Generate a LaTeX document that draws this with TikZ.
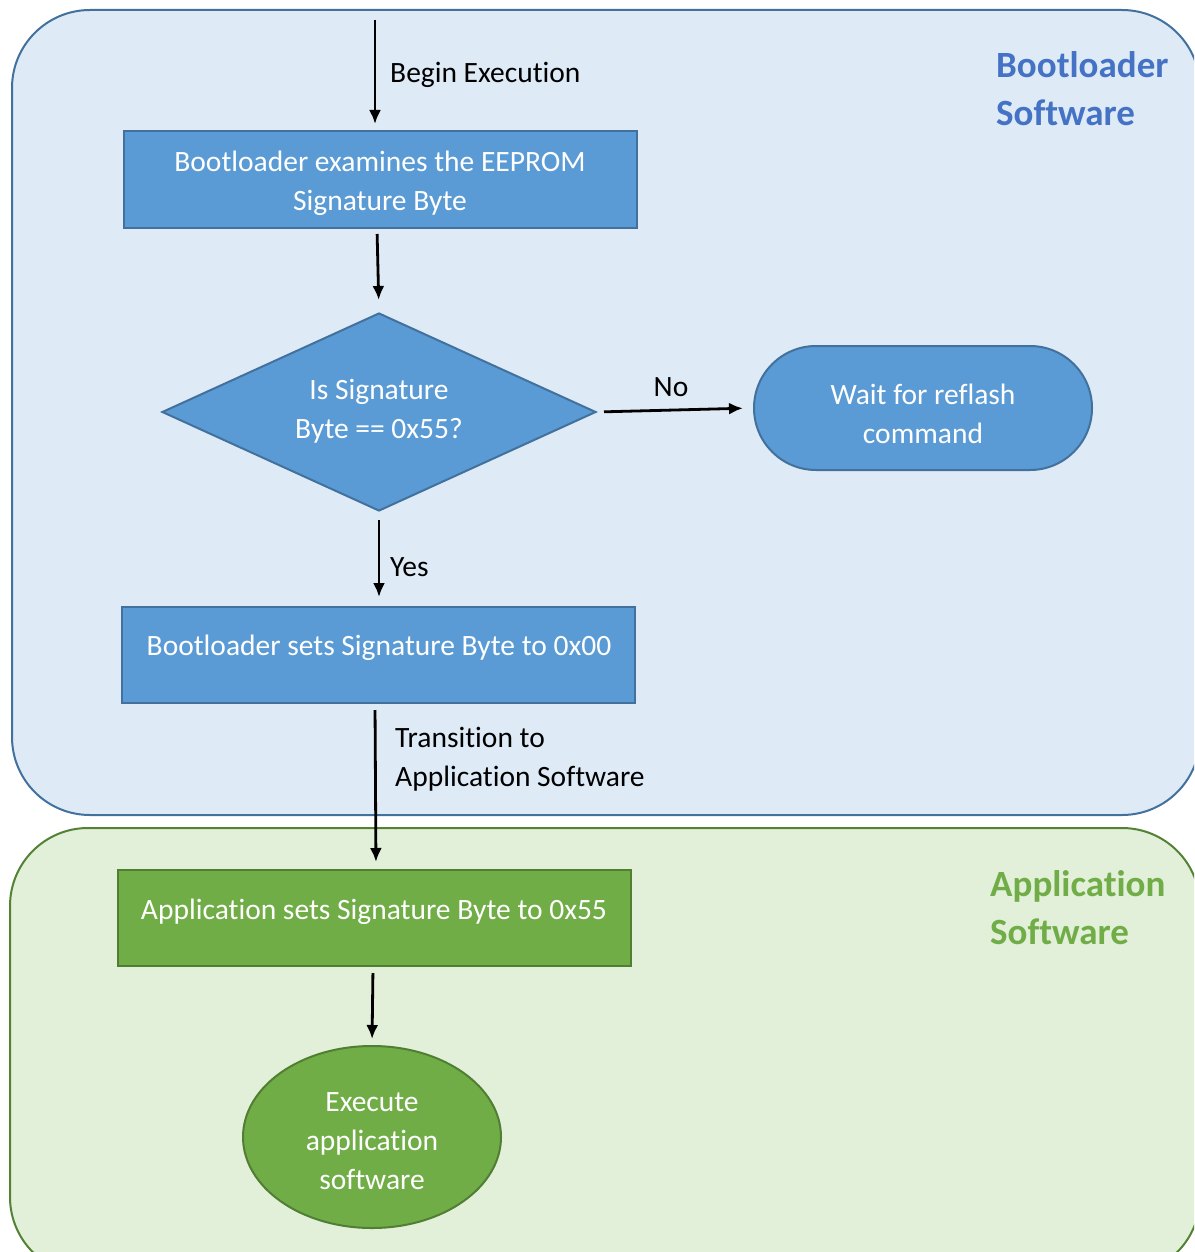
\documentclass[tikz,border=0pt]{standalone}
\usepackage{fontspec}
\setmainfont{Carlito}[Ligatures=NoCommon]
\usetikzlibrary{shapes.geometric,arrows.meta}
\definecolor{panelblue}{RGB}{222,234,246}
\definecolor{edgeblue}{RGB}{65,113,156}
\definecolor{boxblue}{RGB}{91,155,213}
\definecolor{titleblue}{RGB}{68,114,196}
\definecolor{panelgreen}{RGB}{226,239,217}
\definecolor{edgegreen}{RGB}{84,130,53}
\definecolor{boxgreen}{RGB}{112,173,71}
\definecolor{edgeboxgreen}{RGB}{80,126,50}
\tikzset{
  panel/.style={line width=2pt, rounded corners=78},
  bluebox/.style={draw=edgeblue, fill=boxblue, line width=2pt, inner sep=0pt},
  greenbox/.style={draw=edgeboxgreen, fill=boxgreen, line width=2pt, inner sep=0pt},
  boxtext/.style={text=white, font=\fontsize{29.5}{39}\selectfont, align=center, inner sep=0pt},
  plain/.style={text=black, font=\fontsize{29.5}{39}\selectfont, align=left, inner sep=0pt},
  title/.style={font=\fontsize{37}{47.5}\selectfont\bfseries, align=left, inner sep=0pt},
  flow/.style={line width=2.8pt, -{Latex[length=14pt,width=12pt]}},
}
\begin{document}
\begin{tikzpicture}[x=1pt,y=-1pt]
\useasboundingbox (0,0) rectangle (1194,1252);
\begin{scope}
\clip (0,0) rectangle (1194,1252);
% background panels
\draw[panel, draw=edgeblue, fill=panelblue] (12,10) rectangle (1200,815);
\draw[panel, draw=edgegreen, fill=panelgreen] (10,828) rectangle (1200,1275);
\end{scope}

% panel titles
\node[title, text=titleblue, anchor=west] (tboot) at (996,88.5) {Bootloader\\Software};
\node[title, text=boxgreen, anchor=west] (tapp) at (990,907.5) {Application\\Software};

% flow shapes
\coordinate (start) at (375,20);
\node[bluebox, minimum width=513, minimum height=97] (examine) at (380.5,179.5) {};
\node[boxtext] (examinetxt) at (380,183) {Bootloader examines the EEPROM\\Signature Byte};

\node[bluebox, shape=diamond, minimum width=434, minimum height=198] (check) at (379,412) {};
\node[boxtext] (checktxt) at (379,411.5) {Is Signature\\Byte == 0x55?};

\node[bluebox, minimum width=338, minimum height=124, rounded corners=62] (wait) at (923,408) {};
\node[boxtext] (waittxt) at (923,414) {Wait for reflash\\command};

\node[bluebox, minimum width=513, minimum height=96] (clear) at (378.5,655) {};
\node[boxtext] (cleartxt) at (379,648) {Bootloader sets Signature Byte to 0x00};

\node[greenbox, minimum width=513, minimum height=96] (setsig) at (374.5,918) {};
\node[boxtext] (setsigtxt) at (374,912) {Application sets Signature Byte to 0x55};

\node[greenbox, shape=ellipse, minimum width=258, minimum height=182] (run) at (372,1137) {};
\node[boxtext] (runtxt) at (372,1141.5) {Execute\\application\\software};

% connectors
\draw[flow, shorten >=6pt] (start) -- (examine.north -| start);
\draw[flow, shorten <=5pt, shorten >=12pt] (examine.south -| 377,0) -- (check.north);
\draw[flow, shorten <=7pt, shorten >=10pt] (check.east) -- (wait.west);
\draw[flow, shorten <=8pt, shorten >=9pt] (check.south) -- (clear.north -| check.south);
\draw[flow, shorten <=6pt, shorten >=7pt] (clear.south -| 375,0) -- (setsig.north -| 376,0);
\draw[flow, shorten <=6pt, shorten >=6pt] (setsig.south -| 373,0) -- (run.north);

% connector labels
\node[plain, anchor=west] (lbegin) at (390,75) {Begin Execution};
\node[plain] (lno) at (671,387.5) {No};
\node[plain, anchor=west] (lyes) at (390,567.5) {Yes};
\node[plain, anchor=west] (ltrans) at (395,759.5) {Transition to\\Application Software};
\end{tikzpicture}
\end{document}
